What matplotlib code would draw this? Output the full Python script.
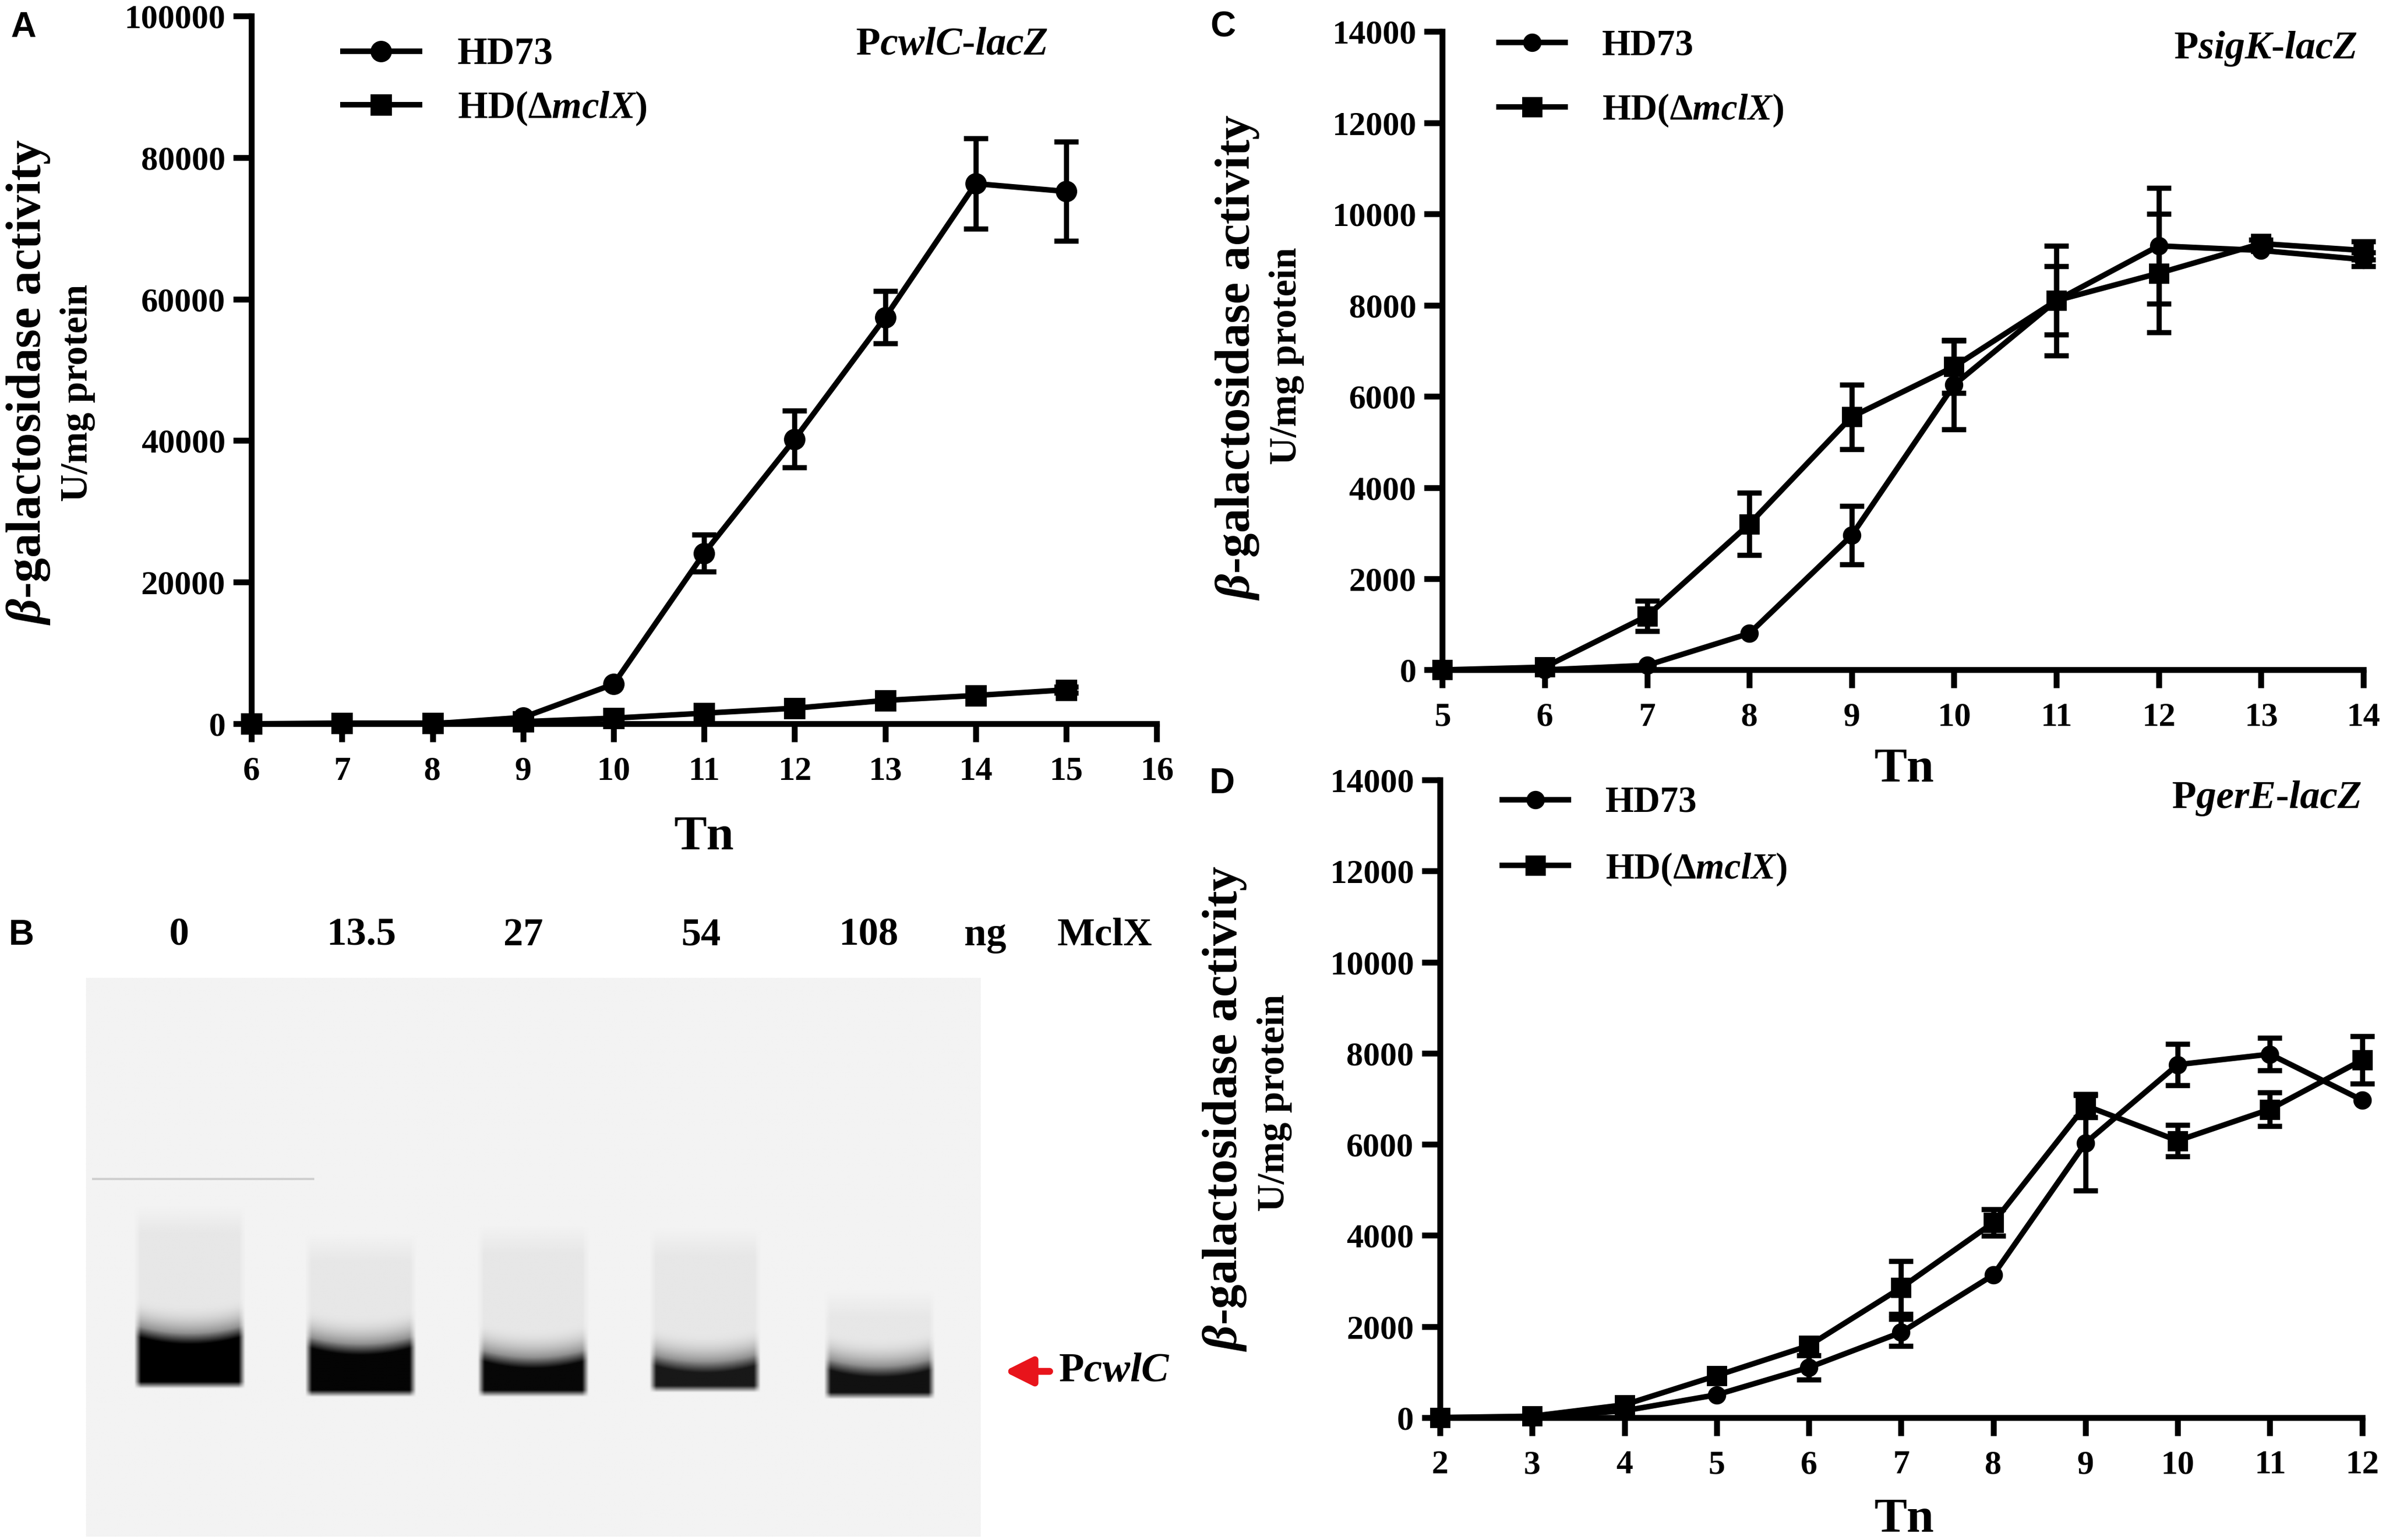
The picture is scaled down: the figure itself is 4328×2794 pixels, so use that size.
import numpy as np
import matplotlib

matplotlib.use("Agg")
import matplotlib.pyplot as plt  # noqa: E402

plt.rcParams.update({
    "font.family": ["Liberation Serif", "DejaVu Serif"],
    "font.weight": "bold",
    "mathtext.fontset": "custom",
    "mathtext.rm": "Liberation Serif:bold",
    "mathtext.it": "Liberation Serif:italic:bold",
    "mathtext.bf": "Liberation Serif:bold",
    "axes.linewidth": 3.8,
})

# ---- panel A: PcwlC-lacZ ----
tn_a = [6, 7, 8, 9, 10, 11, 12, 13, 14, 15]
a_wt = [0, 0, 0, 900, 5600, 24100, 40200, 57400, 76300, 75200]
a_wt_err = [0, 0, 0, 0, 0, 2600, 4000, 3700, 6400, 7000]
a_mut = [0, 100, 100, 300, 800, 1500, 2200, 3300, 4000, 4800]
a_mut_err = [0, 0, 0, 0, 0, 0, 0, 0, 0, 400]

# ---- panel C: PsigK-lacZ ----
tn_c = [5, 6, 7, 8, 9, 10, 11, 12, 13, 14]
c_wt = [0, 0, 100, 800, 2950, 6250, 8100, 9300, 9200, 9000]
c_wt_err = [0, 0, 0, 0, 640, 970, 750, 1270, 0, 150]
c_mut = [0, 60, 1180, 3200, 5550, 6650, 8100, 8700, 9350, 9200]
c_mut_err = [0, 0, 330, 680, 710, 580, 1200, 1300, 80, 200]

# ---- panel D: PgerE-lacZ ----
tn_d = [2, 3, 4, 5, 6, 7, 8, 9, 10, 11, 12]
d_wt = [0, 0, 150, 500, 1100, 1870, 3130, 6030, 7750, 7980, 6970]
d_wt_err = [0, 0, 0, 0, 270, 300, 0, 1050, 450, 360, 0]
d_mut = [0, 30, 280, 920, 1580, 2850, 4280, 6850, 6080, 6770, 7850]
d_mut_err = [0, 0, 0, 0, 0, 580, 290, 250, 340, 370, 520]

# ---- panel B: EMSA gel ----
lane_labels = ["0", "13.5", "27", "54", "108"]
band_strength = [1.0, 0.98, 0.97, 0.9, 0.93]

LABEL_WT = "HD73"
LABEL_MUT = r"HD($\Delta$$\it{mclX)}$"
YLABEL = r"$\it{\beta}$-galactosidase activity"
YUNIT = "U/mg protein"


def draw_series(ax, x, y, err, marker, ms):
    ax.plot(x, y, color="black", lw=3.6, marker=marker, ms=ms,
            clip_on=False, zorder=3)
    xs = [a for a, e in zip(x, err) if e > 0]
    ys = [b for b, e in zip(y, err) if e > 0]
    es = [e for e in err if e > 0]
    if xs:
        cont = ax.errorbar(xs, ys, yerr=es, fmt="none", ecolor="black",
                           elinewidth=3.4, capsize=8, capthick=3.4, zorder=3)
        for art in cont.get_children():
            art.set_clip_on(False)


def style_axes(ax, xlim, xticks, ylim, yticks):
    ax.set_xlim(*xlim)
    ax.set_ylim(*ylim)
    ax.set_xticks(xticks)
    ax.set_yticks(yticks)
    ax.set_yticklabels([str(v) for v in yticks])
    ax.spines["top"].set_visible(False)
    ax.spines["right"].set_visible(False)
    ax.tick_params(direction="out", length=12, width=3.8, labelsize=22)
    ax.tick_params(axis="x", pad=9)
    ax.tick_params(axis="y", pad=5)


def add_legend(ax, fig, anchor, fs, spacing, hlen, ms_c, ms_s):
    h1, = ax.plot([], [], color="black", lw=3.6, marker="o", ms=ms_c)
    h2, = ax.plot([], [], color="black", lw=3.6, marker="s", ms=ms_s)
    ax.legend([h1, h2], [LABEL_WT, LABEL_MUT], loc="upper left",
              bbox_to_anchor=anchor, bbox_transform=fig.transFigure,
              frameon=False, fontsize=fs, handlelength=hlen,
              handletextpad=1.0, labelspacing=spacing, borderpad=0,
              borderaxespad=0)


def add_ylabels(fig, x_main, y_main, x_unit, y_unit):
    fig.text(x_main, y_main, YLABEL, fontsize=32, rotation=90,
             ha="center", va="center")
    fig.text(x_unit, y_unit, YUNIT, fontsize=25, rotation=90,
             ha="center", va="center")


fig = plt.figure(figsize=(21.64, 13.97), dpi=200)

# Panel A
ax_a = fig.add_axes([0.1054, 0.530, 0.3794, 0.4597])
draw_series(ax_a, tn_a, a_wt, a_wt_err, "o", 13)
draw_series(ax_a, tn_a, a_mut, a_mut_err, "s", 13)
style_axes(ax_a, (6, 16), range(6, 17), (0, 100000), list(range(0, 100001, 20000)))
add_legend(ax_a, fig, (0.1437, 0.9757), 25, 0.45, 2.0, 13, 13)
fig.text(0.399, 0.9707, r"P$\it{cwlC}$-$\it{lacZ}$", fontsize=26, ha="center", va="center")
fig.text(0.295, 0.456, "Tn", fontsize=32, ha="center", va="center")
add_ylabels(fig, 0.0118, 0.752, 0.0326, 0.745)

# Panel C
ax_c = fig.add_axes([0.6045, 0.565, 0.386, 0.4145])
draw_series(ax_c, tn_c, c_wt, c_wt_err, "o", 11)
draw_series(ax_c, tn_c, c_mut, c_mut_err, "s", 12)
style_axes(ax_c, (5, 14), range(5, 15), (0, 14000), list(range(0, 14001, 2000)))
add_legend(ax_c, fig, (0.6282, 0.981), 24, 0.8, 1.8, 11, 12)
fig.text(0.9496, 0.9685, r"P$\it{sigK}$-$\it{lacZ}$", fontsize=26, ha="center", va="center")
fig.text(0.798, 0.5, "Tn", fontsize=32, ha="center", va="center")
add_ylabels(fig, 0.5185, 0.768, 0.5393, 0.769)

# Panel D
ax_d = fig.add_axes([0.6035, 0.0795, 0.3865, 0.414])
draw_series(ax_d, tn_d, d_wt, d_wt_err, "o", 11)
draw_series(ax_d, tn_d, d_mut, d_mut_err, "s", 12)
style_axes(ax_d, (2, 12), range(2, 13), (0, 14000), list(range(0, 14001, 2000)))
add_legend(ax_d, fig, (0.6296, 0.4893), 24, 0.84, 1.8, 11, 12)
fig.text(0.950, 0.4814, r"P$\it{gerE}$-$\it{lacZ}$", fontsize=26, ha="center", va="center")
fig.text(0.798, 0.013, "Tn", fontsize=32, ha="center", va="center")
add_ylabels(fig, 0.5134, 0.280, 0.5342, 0.2838)

# Panel B: gel picture built from lane layout
ax_b = fig.add_axes([0.036, 0.002, 0.375, 0.363])
lane_center = [0.116, 0.307, 0.500, 0.692, 0.887]
smear_top = [0.41, 0.46, 0.445, 0.45, 0.56]
band_top = [0.621, 0.64, 0.664, 0.672, 0.68]
band_bot = [0.723, 0.738, 0.738, 0.73, 0.742]
half_w = 0.062
H, W = 600, 900
v = (np.arange(H) + 0.5)[:, None] / H
u = (np.arange(W) + 0.5)[None, :] / W
dark = np.zeros((H, W))
for c, st, bt, bb, s in zip(lane_center, smear_top, band_top, band_bot, band_strength):
    rel = (u - c) / half_w
    hprof = np.clip((1 - np.abs(rel)) / 0.12, 0, 1)
    top = bt + 0.015 * (1 - np.clip(rel, -1, 1) ** 2)
    # faint smear above the band, rising just above it
    smear = 0.05 * np.clip((v - st) / 0.05, 0, 1)
    ramp = np.clip((v - (top - 0.05)) / 0.05, 0, 1)
    lane = np.where(v < top, smear + 0.35 * ramp ** 2,
                    s * np.clip(1 - (v - bb) / 0.012, 0, 1))
    lane = np.where((v >= top) & (v < top + 0.02),
                    0.4 + (s - 0.4) * (v - top) / 0.02, lane)
    lane = np.where(v < st, 0.0, lane)
    dark = np.maximum(dark, lane * hprof)
img = 0.95 * (1 - dark)
ax_b.imshow(img, cmap="gray", vmin=0, vmax=1, extent=(0, 1, 0, 1),
            aspect="auto", interpolation="bilinear")
ax_b.plot([0.008, 0.254], [0.64, 0.64], color="#cfcfcf", lw=1.5)
ax_b.set_xlim(0, 1)
ax_b.set_ylim(0, 1)
ax_b.axis("off")

label_x = [0.075, 0.1515, 0.2194, 0.294, 0.364]
for lx, lab in zip(label_x, lane_labels):
    fig.text(lx, 0.3926, lab, fontsize=26, ha="center", va="center")
fig.text(0.413, 0.3926, "ng", fontsize=26, ha="center", va="center")
fig.text(0.463, 0.3926, "MclX", fontsize=26, ha="center", va="center")
ax_b.annotate("", xy=(0.4195, 0.1095), xytext=(0.4412, 0.1095),
              xycoords="figure fraction", textcoords="figure fraction",
              arrowprops=dict(arrowstyle="-|>", color="#e8141b", lw=4.5,
                              mutation_scale=38),
              annotation_clip=False)
fig.text(0.4436, 0.1095, r"P$\it{cwlC}$", fontsize=27, ha="left", va="center")

# panel letters
for lx, ly, letter in [(0.0099, 0.982, "A"), (0.0089, 0.3926, "B"),
                       (0.5126, 0.9824, "C"), (0.5123, 0.491, "D")]:
    fig.text(lx, ly, letter, fontsize=23, family="Liberation Sans",
             weight="bold", ha="center", va="center")

fig.savefig("out.png", dpi=200)
